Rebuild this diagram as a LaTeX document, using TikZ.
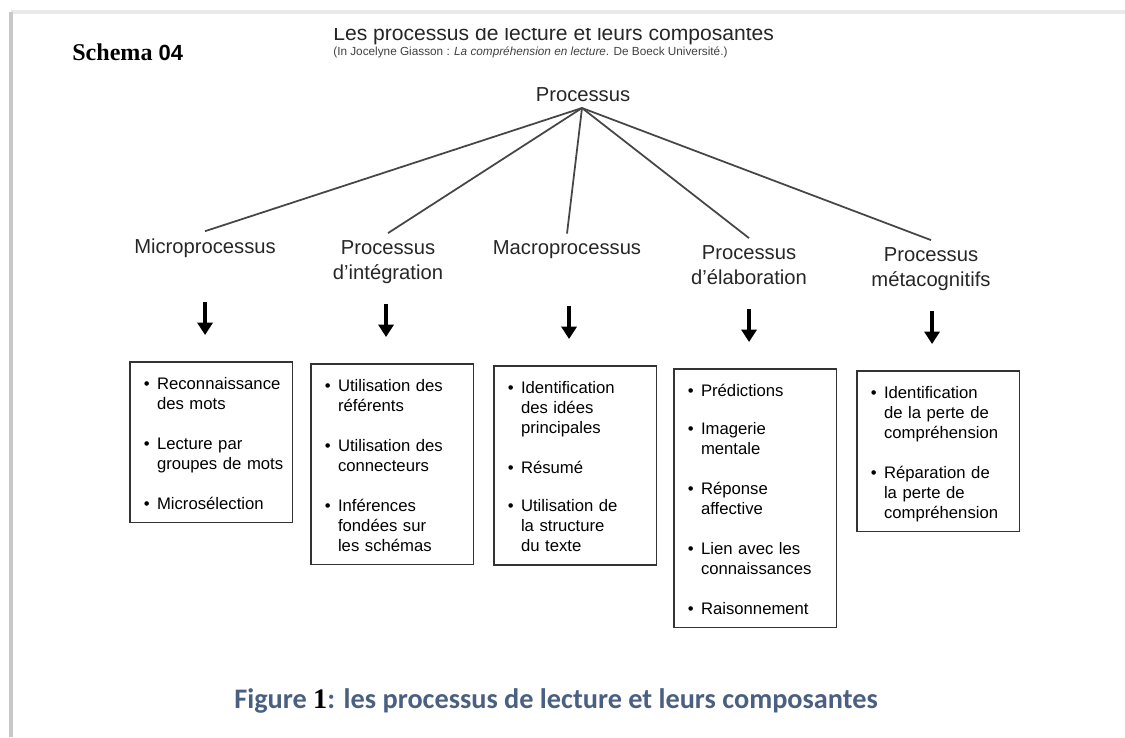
\documentclass[tikz,border=0pt]{standalone}
\usepackage{fontspec}
\usepackage{xcolor}
\usepackage{tikz}
\setmainfont{Liberation Sans}
\newfontfamily\timesbf{Liberation Serif}
\newfontfamily\legende{Carlito}
\usetikzlibrary{arrows.meta}
\definecolor{bleulegende}{RGB}{74,96,130}
\definecolor{grisbord}{RGB}{200,200,200}
\definecolor{gristrait}{RGB}{70,70,70}

% puce d'une boite
\newcommand{\puce}[1]{\par\noindent\makebox[7.5pt][l]{\textbullet}\begin{tabular}[t]{@{}l@{}}#1\end{tabular}\par}
\newcommand{\ecart}{\par\vspace{10.3pt}}

\begin{document}
\begin{tikzpicture}[x=0.02cm, y=-0.02cm,
    titre/.style={font=\fontsize{11.5}{14.2}\selectfont, align=center, inner sep=4pt, text=black!85},
    boite/.style={draw=black!80, line width=0.9pt, anchor=north west, text width=76.5pt,
        inner xsep=8pt, inner ysep=4.2pt, align=left, font=\fontsize{9.5}{11.4}\selectfont},
    fleche/.style={line width=2.3pt, -{Triangle[width=8.5pt, length=7pt]}},
    branche/.style={line width=1pt, gristrait}]
    \useasboundingbox (0,0) rectangle (1125,737);

    % Cadre de la page
    \draw[grisbord!40, line width=2pt] (11,12) -- (1125,12);
    \draw[grisbord, line width=2.5pt] (11,12) -- (11,737);

    % En-tete
    \node[anchor=base west, inner sep=0pt] (schema) at (72,60)
        {\fontsize{13.7}{16}\timesbf\bfseries Schema {\fontsize{12.5}{15}\rmfamily\bfseries 04}};
    \begin{scope}
        \clip (300,28.5) rectangle (850,60);
        \node[anchor=base west, inner sep=0pt, text=black!85] (titre) at (333,40.5)
            {\fontsize{12}{14}\selectfont Les processus de lecture et leurs composantes};
    \end{scope}
    \node[anchor=base west, inner sep=0pt, text=black!75] (source) at (333,55)
        {\fontsize{6.7}{8}\selectfont (In Jocelyne Giasson : \textit{La compréhension en lecture}. De Boeck Université.)};

    % Processus et ses branches
    \node[titre] (proc) at (583,95) {Processus};
    \coordinate (fourche) at (582,108);
    \node[titre] (micro) at (205,248) {Microprocessus};
    \node[titre] (integ) at (388,262) {Processus\\d'intégration};
    \node[titre] (macro) at (567,250) {Macroprocessus};
    \node[titre] (elab) at (749,265) {Processus\\d'élaboration};
    \node[titre] (meta) at (931,269) {Processus\\métacognitifs};
    \foreach \t in {micro,integ,macro,elab,meta}
        \draw[branche] (fourche) -- (\t.north);

    % Boites des composantes
    \node[boite] (b1) at (129,361) {
        \puce{Reconnaissance\\des mots}\ecart
        \puce{Lecture par\\groupes de mots}\ecart
        \puce{Microsélection}};
    \node[boite] (b2) at (310,363) {
        \puce{Utilisation des\\référents}\ecart
        \puce{Utilisation des\\connecteurs}\ecart
        \puce{Inférences\\fondées sur\\les schémas}};
    \node[boite] (b3) at (493,365) {
        \puce{Identification\\des idées\\principales}\ecart
        \puce{Résumé}\ecart
        \puce{Utilisation de\\la structure\\du texte}};
    \node[boite] (b4) at (673,368) {
        \puce{Prédictions}\ecart
        \puce{Imagerie\\mentale}\ecart
        \puce{Réponse\\affective}\ecart
        \puce{Lien avec les\\connaissances}\ecart
        \puce{Raisonnement}};
    \node[boite] (b5) at (856,370) {
        \puce{Identification\\de la perte de\\compréhension}\ecart
        \puce{Réparation de\\la perte de\\compréhension}};

    % Fleches vers les boites
    \foreach \n in {b1,b2,b3,b4,b5}
        \draw[fleche] ([xshift=-0.12cm, yshift=1.18cm]\n.north) -- ([xshift=-0.12cm, yshift=0.52cm]\n.north);

    % Legende
    \node[anchor=base west, inner sep=0pt, text=bleulegende] (legende) at (234,708)
        {\fontsize{16.1}{19}\legende\bfseries Figure {\timesbf\color{black}1}: les processus de lecture et leurs composantes};
\end{tikzpicture}
\end{document}
